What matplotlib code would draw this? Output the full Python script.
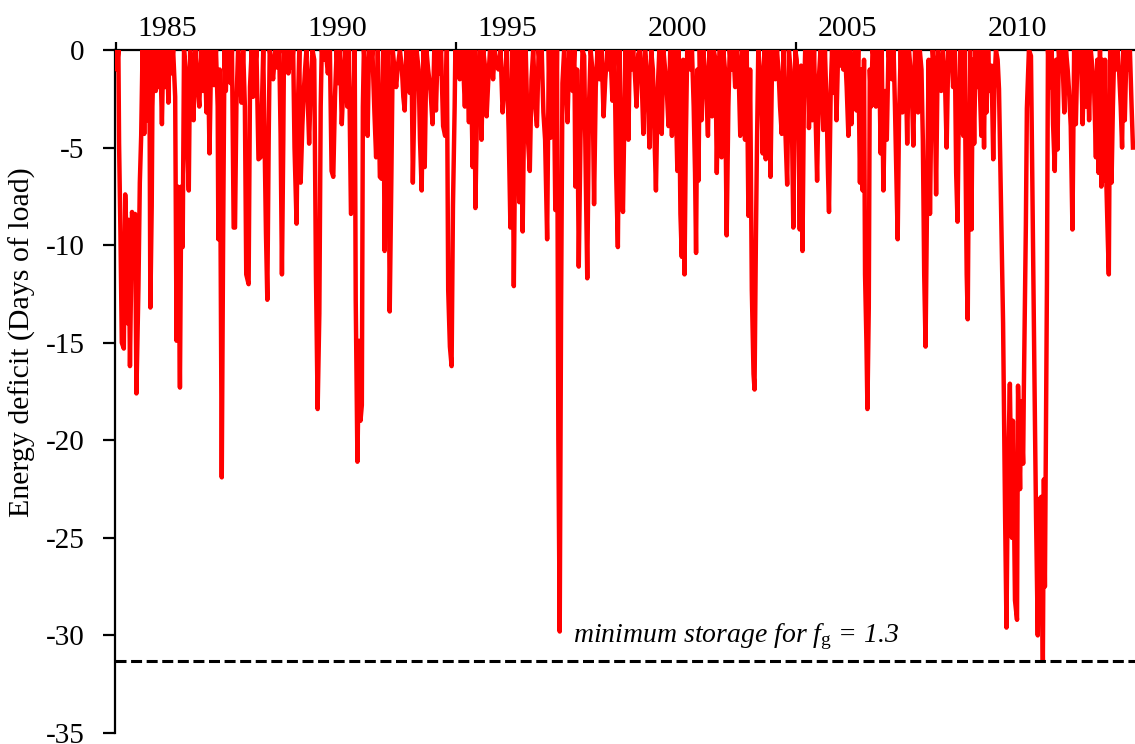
import numpy as np
import matplotlib
matplotlib.use("Agg")
import matplotlib.pyplot as plt

plt.rcParams['font.family'] = ['Liberation Serif', 'DejaVu Serif']
plt.rcParams['mathtext.fontset'] = 'custom'
plt.rcParams['mathtext.it'] = 'Liberation Serif:italic'
plt.rcParams['mathtext.rm'] = 'Liberation Serif'

# energy deficit (days of load)
yr_a = [1983.47, 1983.52, 1983.57, 1983.59, 1983.63, 1983.67, 1983.73, 1983.77, 1983.81, 1983.83,
        1983.87, 1983.91, 1983.97, 1984.03, 1984.06, 1984.10, 1984.16, 1984.20, 1984.24, 1984.28,
        1984.33, 1984.38, 1984.43, 1984.48, 1984.51, 1984.55, 1984.57, 1984.61, 1984.67, 1984.71,
        1984.76, 1984.80, 1984.85, 1984.89, 1984.95, 1985.00, 1985.04, 1985.07, 1985.12, 1985.18,
        1985.24, 1985.28, 1985.32, 1985.38, 1985.42, 1985.46, 1985.50, 1985.55, 1985.59, 1985.64,
        1985.68, 1985.73, 1985.78, 1985.83, 1985.89, 1985.95, 1986.00, 1986.06, 1986.11, 1986.16,
        1986.20, 1986.25, 1986.30, 1986.38, 1986.44, 1986.49, 1986.51, 1986.55, 1986.61, 1986.65,
        1986.69, 1986.73, 1986.77, 1986.82, 1986.87, 1986.91, 1986.96, 1987.00, 1987.04, 1987.09,
        1987.14, 1987.19, 1987.24, 1987.29, 1987.33, 1987.40, 1987.44, 1987.49, 1987.53, 1987.58,
        1987.63, 1987.69, 1987.75, 1987.79, 1987.83, 1987.87, 1987.91, 1987.95, 1987.99, 1988.02,
        1988.08, 1988.12, 1988.18, 1988.24, 1988.30, 1988.34, 1988.38, 1988.42]
d_a = [0, -1.0, 0, -4.8, -9.4, -15.0, -15.3, -7.4, -9.7, -14.0,
       -8.7, -16.2, -8.3, -9.1, -8.4, -17.6, -12.1, -6.8, -4.4, 0,
       -4.3, 0, -3.6, 0, -13.2, -8.0, -2.9, 0, -2.1, 0,
       -1.9, 0, -3.8, 0, -1.9, 0, -2.7, 0, -1.2, 0,
       -2.4, -14.9, -7.0, -17.3, -7.0, -10.1, 0, -1.0, -4.6, -7.2,
       0, -1.2, -3.6, 0, -1.5, -2.9, 0, -2.1, 0, -3.2,
       0, -5.3, 0, -1.8, 0, -2.9, -9.7, -1.0, -21.9, -9.7,
       0, -2.1, 0, -1.5, -1.7, 0, -9.1, -9.1, -2.9, 0,
       -1.0, -2.7, 0, -2.9, -11.5, -12.0, -1.9, 0, -2.4, -1.2,
       0, -5.6, -5.5, -2.9, 0, -4.6, -9.4, -12.8, -4.6, 0,
       -0.8, -1.5, 0, -0.9, 0, -4.3, -11.5, -4.6]

yr_b = [1988.44, 1988.48, 1988.52, 1988.57, 1988.61, 1988.67, 1988.71, 1988.75, 1988.81, 1988.85,
        1988.89, 1988.93, 1988.98, 1989.02, 1989.06, 1989.10, 1989.14, 1989.18, 1989.23, 1989.28,
        1989.33, 1989.38, 1989.43, 1989.48, 1989.52, 1989.55, 1989.61, 1989.67, 1989.73, 1989.79,
        1989.84, 1989.89, 1989.94, 1989.99, 1990.04, 1990.09, 1990.14, 1990.20, 1990.25, 1990.30,
        1990.35, 1990.41, 1990.46, 1990.52, 1990.55, 1990.60, 1990.65, 1990.69, 1990.73, 1990.76,
        1990.79, 1990.85, 1990.90, 1990.94, 1990.99, 1991.04, 1991.10, 1991.15, 1991.20, 1991.26,
        1991.31, 1991.36, 1991.40, 1991.44, 1991.50, 1991.55, 1991.60, 1991.64, 1991.69, 1991.74,
        1991.79, 1991.85, 1991.91, 1991.95, 1991.99, 1992.04, 1992.09, 1992.14, 1992.19, 1992.23,
        1992.28, 1992.34, 1992.40, 1992.44, 1992.49, 1992.54, 1992.58, 1992.63, 1992.68, 1992.75,
        1992.81, 1992.86, 1992.91, 1992.96, 1993.01, 1993.06, 1993.12, 1993.18, 1993.23, 1993.27,
        1993.32, 1993.37, 1993.41, 1993.46]
d_b = [0, -1.0, 0, -1.2, 0, -0.9, 0, -5.0, -8.9, -2.9,
       0, -6.8, -3.9, -2.2, -1.0, 0, -2.6, -4.8, -1.5, 0,
       -0.5, -11.5, -18.4, -13.5, -2.9, 0, -0.5, 0, -1.2, 0,
       -6.2, -6.5, -2.4, 0, -1.7, 0, -3.8, -1.2, 0, -2.9,
       0, -8.4, -4.6, 0, -12.8, -21.1, -14.9, -19.0, -18.2, -2.9,
       0, -1.5, -4.4, 0, -1.0, 0, -3.2, -5.5, 0, -6.5,
       -6.6, 0, -10.3, -4.6, 0, -13.4, -6.3, 0, -1.0, -1.9,
       -0.8, 0, -1.0, -2.4, -3.1, 0, -1.2, -2.2, 0, -6.8,
       -2.1, 0, -1.0, -4.6, -7.2, 0, -6.0, 0, -1.0, -2.1,
       -3.8, 0, -3.1, 0, -1.2, 0, -3.9, -4.4, 0, -12.3,
       -15.2, -16.2, -8.0, -2.9]

yr_c = [1993.48, 1993.53, 1993.57, 1993.61, 1993.66, 1993.71, 1993.76, 1993.81, 1993.88, 1993.93,
        1993.99, 1994.04, 1994.07, 1994.12, 1994.16, 1994.20, 1994.25, 1994.30, 1994.35, 1994.40,
        1994.45, 1994.50, 1994.55, 1994.59, 1994.64, 1994.69, 1994.75, 1994.81, 1994.87, 1994.93,
        1994.99, 1995.05, 1995.10, 1995.15, 1995.20, 1995.24, 1995.28, 1995.32, 1995.36, 1995.41,
        1995.46, 1995.51, 1995.55, 1995.61, 1995.67, 1995.72, 1995.77, 1995.83, 1995.88, 1995.93,
        1995.98, 1996.02, 1996.07, 1996.12, 1996.18, 1996.23, 1996.28, 1996.32, 1996.37, 1996.42,
        1996.47, 1996.51, 1996.55, 1996.59, 1996.63, 1996.68, 1996.73, 1996.78, 1996.83, 1996.88,
        1996.93, 1996.98, 1997.01, 1997.06, 1997.11, 1997.16, 1997.22, 1997.27, 1997.32, 1997.36,
        1997.41, 1997.46, 1997.51, 1997.56, 1997.61, 1997.66, 1997.72, 1997.78, 1997.84, 1997.89,
        1997.95, 1998.00, 1998.04, 1998.10, 1998.16, 1998.21, 1998.26, 1998.31, 1998.36, 1998.41,
        1998.46]
d_c = [0, -1.0, 0, -1.5, 0, -0.7, -2.9, 0, -3.7, 0,
       -6.0, 0, -8.1, -2.9, -1.5, 0, -4.6, 0, -0.8, -3.4,
       -1.5, 0, -0.5, -1.5, 0, -0.8, -1.0, 0, -3.2, -1.7,
       0, -4.3, -9.1, 0, -12.1, -4.6, 0, -4.4, -7.8, 0,
       -9.3, -2.1, 0, -4.4, -6.2, -1.5, 0, -2.9, -3.9, 0,
       -1.0, 0, -3.2, -4.6, -9.7, 0, -4.5, -1.0, 0, -8.2,
       0, -20.0, -29.8, -13.2, -1.7, 0, -1.7, -3.7, 0, -1.0,
       -2.1, 0, -7.0, -1.0, -11.1, -4.6, 0, -0.3, -7.0, -11.7,
       -2.9, 0, -1.0, -7.9, -1.9, 0, -1.5, 0, -3.4, -1.5,
       0, -1.0, 0, -2.6, 0, -6.3, -10.1, 0, -6.7, -8.3,
       -2.1]

yr_d = [1998.48, 1998.52, 1998.57, 1998.61, 1998.66, 1998.71, 1998.76, 1998.81, 1998.86, 1998.91,
        1998.96, 1999.01, 1999.06, 1999.10, 1999.15, 1999.19, 1999.24, 1999.29, 1999.34, 1999.38,
        1999.43, 1999.48, 1999.52, 1999.55, 1999.60, 1999.65, 1999.70, 1999.75, 1999.80, 1999.85,
        1999.90, 1999.95, 2000.01, 2000.05, 2000.10, 2000.14, 2000.18, 2000.22, 2000.26, 2000.30,
        2000.34, 2000.39, 2000.44, 2000.49, 2000.53, 2000.56, 2000.60, 2000.63, 2000.67, 2000.72,
        2000.77, 2000.82, 2000.87, 2000.91, 2000.95, 2001.00, 2001.03, 2001.08, 2001.13, 2001.17,
        2001.21, 2001.26, 2001.31, 2001.36, 2001.41, 2001.46, 2001.51, 2001.55, 2001.60, 2001.66,
        2001.71, 2001.76, 2001.81, 2001.86, 2001.91, 2001.96, 2002.00, 2002.05, 2002.10, 2002.15,
        2002.20, 2002.25, 2002.28, 2002.32, 2002.35, 2002.39, 2002.44, 2002.49, 2002.52, 2002.57,
        2002.61, 2002.66, 2002.71, 2002.75, 2002.80, 2002.85, 2002.89, 2002.94, 2002.99, 2003.03,
        2003.08, 2003.13, 2003.18, 2003.24, 2003.29, 2003.34, 2003.38, 2003.42, 2003.46]
d_d = [0, -0.5, -4.6, 0, -1.0, 0, -1.2, -2.9, -0.2, 0,
       -1.5, -4.3, 0, -0.8, -2.9, -5.0, 0, -1.0, -4.6, -7.2,
       -2.1, 0, -1.5, -4.3, 0, -1.0, -2.1, -3.9, 0, -4.4,
       0, -1.5, -6.2, 0, -8.4, -10.6, -0.5, -11.5, -4.6, 0,
       -0.5, -1.0, 0, -2.9, -6.3, -10.4, -1.0, -6.7, 0, -3.6,
       0, -1.0, -2.6, -4.4, 0, -1.0, -3.4, 0, -0.5, -6.3,
       -2.1, 0, -5.5, 0, -1.0, -9.5, -2.9, 0, -1.0, 0,
       -1.9, 0, -1.0, -4.4, 0, -1.0, -4.6, 0, -8.5, -1.0,
       -12.3, -16.6, -17.4, -9.7, -5.1, 0, -1.0, -2.9, -5.3, 0,
       -5.6, 0, -2.9, -6.5, 0, -1.0, -1.5, 0, -1.2, -2.9,
       -4.3, 0, -3.8, -6.9, 0, -1.0, -3.8, -9.1, -2.9]

yr_e = [2003.48, 2003.52, 2003.57, 2003.61, 2003.65, 2003.69, 2003.73, 2003.77, 2003.81, 2003.85,
        2003.88, 2003.93, 2003.98, 2004.03, 2004.07, 2004.12, 2004.17, 2004.22, 2004.26, 2004.30,
        2004.35, 2004.40, 2004.44, 2004.47, 2004.52, 2004.56, 2004.60, 2004.65, 2004.69, 2004.74,
        2004.79, 2004.84, 2004.89, 2004.94, 2004.99, 2005.04, 2005.08, 2005.13, 2005.18, 2005.23,
        2005.28, 2005.33, 2005.38, 2005.42, 2005.46, 2005.50, 2005.53, 2005.57, 2005.60, 2005.64,
        2005.67, 2005.71, 2005.75, 2005.80, 2005.85, 2005.90, 2005.95, 2005.99, 2006.02, 2006.07,
        2006.12, 2006.17, 2006.22, 2006.27, 2006.32, 2006.37, 2006.41, 2006.45, 2006.49, 2006.53,
        2006.58, 2006.63, 2006.68, 2006.73, 2006.77, 2006.82, 2006.87, 2006.92, 2006.95, 2007.00,
        2007.04, 2007.09, 2007.14, 2007.19, 2007.23, 2007.27, 2007.31, 2007.35, 2007.40, 2007.44,
        2007.48, 2007.52, 2007.57, 2007.62, 2007.67, 2007.72, 2007.77, 2007.82, 2007.88, 2007.93,
        2007.98, 2008.02, 2008.07, 2008.12, 2008.17, 2008.21, 2008.25, 2008.29, 2008.33, 2008.37,
        2008.42, 2008.46]
d_e = [0, -0.5, -2.9, -9.2, -0.8, -10.3, -2.9, 0, -1.5, 0,
       -4.0, 0, -3.6, 0, -2.9, -6.7, -1.5, 0, -2.1, -4.1,
       0, -2.9, -6.3, -8.3, -2.1, 0, -2.2, 0, -3.6, 0,
       -0.8, 0, -1.0, 0, -1.9, -4.4, 0, -3.8, -0.9, 0,
       -3.1, 0, -6.8, -1.0, -7.2, -0.5, -11.5, -14.9, -18.4, -13.2,
       -1.0, -2.9, 0, -0.5, -2.9, 0, -1.0, -5.3, 0, -7.2,
       -2.1, -4.6, 0, -1.0, -1.5, 0, -2.9, -6.3, -9.7, -3.4,
       0, -3.2, 0, -1.0, -4.8, 0, -1.0, -2.9, -4.9, 0,
       -0.8, -3.2, 0, -1.0, -4.6, -11.5, -15.2, -8.4, -0.5, -8.4,
       -2.9, 0, -1.0, -7.4, 0, -0.8, -2.1, 0, -1.5, -5.0,
       0, -1.0, 0, -1.9, 0, -6.3, -8.8, -2.9, 0, -3.9,
       -4.4, 0]

yr_f = [2008.48, 2008.52, 2008.55, 2008.58, 2008.62, 2008.66, 2008.70, 2008.74, 2008.78, 2008.82,
        2008.86, 2008.91, 2008.95, 2008.99, 2009.03, 2009.06, 2009.10, 2009.15, 2009.20, 2009.25,
        2009.30, 2009.34, 2009.38, 2009.43,
        2009.47, 2009.53, 2009.59, 2009.65, 2009.69, 2009.73, 2009.79, 2009.85, 2009.88, 2009.94,
        2010.00, 2010.03, 2010.09, 2010.12, 2010.18, 2010.20, 2010.26, 2010.29, 2010.35, 2010.41,
        2010.47, 2010.53, 2010.56, 2010.61, 2010.65, 2010.68, 2010.71, 2010.76, 2010.79, 2010.82,
        2010.88, 2010.91,
        2010.97, 2011.02, 2011.06, 2011.11, 2011.15, 2011.19, 2011.23, 2011.28, 2011.33, 2011.39,
        2011.44, 2011.49, 2011.53, 2011.58, 2011.63, 2011.68, 2011.73, 2011.78, 2011.83, 2011.88,
        2011.93, 2011.98, 2012.02, 2012.07, 2012.12, 2012.17, 2012.22, 2012.27, 2012.32, 2012.36,
        2012.40, 2012.44, 2012.48, 2012.51, 2012.55, 2012.59, 2012.63, 2012.67, 2012.70, 2012.74,
        2012.78, 2012.82, 2012.86, 2012.91, 2012.96, 2013.00, 2013.05, 2013.09, 2013.13, 2013.17,
        2013.22, 2013.27, 2013.32, 2013.37, 2013.41]
d_f = [-4.6, -11.5, -13.8, -6.3, 0, -9.2, -0.5, -4.8, 0, -1.9,
       0, -2.1, -4.4, 0, -5.0, 0, -3.2, 0, -2.1, -0.8,
       -5.6, -1.5, 0, -0.5,
       -2.0, -8.0, -14.0, -24.0, -29.6, -22.0, -17.1, -25.0, -19.0, -28.2,
       -29.2, -17.2, -22.5, -18.0, -21.2, -17.5, -9.0, -3.0, 0, -0.3,
       -10.0, -19.5, -24.0, -30.0, -23.0, -26.0, -22.9, -31.3, -22.0, -27.5,
       -12.0, 0,
       -1.9, 0, -3.8, -6.2, -0.5, -5.1, 0, -1.0, 0, -3.2,
       0, -1.0, -2.1, -3.9, -9.2, 0, -3.8, 0, -1.0, 0,
       -3.8, 0, -2.9, 0, -3.6, 0, -1.0, -2.1, -5.5, -0.5,
       -6.3, 0, -7.0, -0.5, -6.7, -0.5, -7.0, -9.7, -11.5, 0,
       -6.8, -2.9, 0, -1.0, 0, -1.0, -2.9, -5.0, 0, -3.6,
       0, -1.0, 0, -2.9, -5.0]

label_years = [1985, 1990, 1995, 2000, 2005, 2010]
min_storage = -31.3
note_text = 'minimum storage for $f_{\\mathrm{g}}$ = 1.3'

years = np.array(yr_a + yr_b + yr_c + yr_d + yr_e + yr_f)
deficit = np.array(d_a + d_b + d_c + d_d + d_e + d_f)

fig = plt.figure(figsize=(11.35, 7.44), dpi=100)
ax = fig.add_axes([115 / 1135, 11 / 744, 1020 / 1135, 683 / 744])

ax.plot(years, deficit, color='#ff0000', lw=3.2, solid_joinstyle='round', zorder=3)
ax.axhline(min_storage, color='black', lw=2.2, dashes=(3.6, 1.5), zorder=4)
ax.text(1996.94, min_storage + 0.97, note_text, fontsize=20, style='italic',
        va='baseline', ha='left')

ax.set_xlim(1983.47, 2013.47)
ax.set_ylim(-35, 0)

for s in ['right', 'bottom']:
    ax.spines[s].set_visible(False)
for s in ['left', 'top']:
    ax.spines[s].set_linewidth(1.6)
    ax.spines[s].set_color('black')

ax.xaxis.tick_top()
ax.set_xticks(label_years)
ax.set_xticklabels([str(y) for y in label_years])
ax.set_xticks([1983.5, 1993.5, 2003.5], minor=True)
ax.tick_params(axis='x', which='major', length=0, pad=6, labelsize=21.5)
ax.tick_params(axis='x', which='minor', direction='inout', length=12, width=1.6)

yt = np.arange(-35, 1, 5)
ax.set_yticks(yt)
ax.set_yticklabels([str(v) for v in yt])
ax.tick_params(axis='y', direction='out', length=9, width=1.6, pad=13, labelsize=21)

fig.text(22 / 1135, 1 - 342 / 744, 'Energy deficit (Days of load)', rotation=90,
         ha='center', va='center', fontsize=21.5)

fig.savefig('out.png', dpi=100)
